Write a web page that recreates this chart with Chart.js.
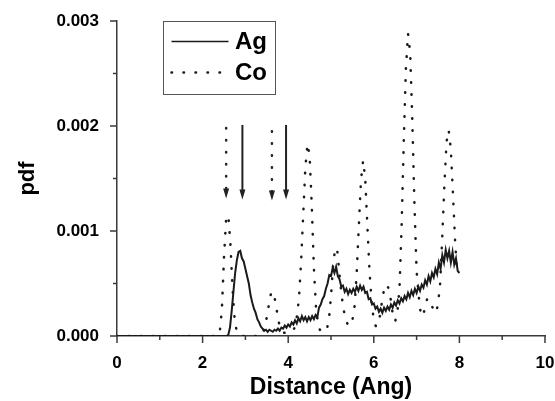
<!DOCTYPE html>
<html>
<head>
<meta charset="utf-8">
<script src="https://cdn.jsdelivr.net/npm/chart.js@4/dist/chart.umd.min.js"></script>
<style>
  html, body { margin: 0; padding: 0; background: #fff; }
</style>
</head>
<body>
<canvas id="pdfChart" width="555" height="401"></canvas>
<script>
// pdf vs distance, [distance (Ang), pdf]
var agPoints = [
  [0, 0], [2.56, 0], [2.60, 0.00001], [2.64, 0.00008], [2.68, 0.00024], [2.72, 0.00042],
  [2.76, 0.0006], [2.80, 0.00072], [2.84, 0.0008], [2.88, 0.00081], [2.92, 0.00074],
  [2.96, 0.00071], [3.00, 0.00064], [3.04, 0.00057], [3.08, 0.0005], [3.12, 0.00039],
  [3.16, 0.00032], [3.20, 0.00026], [3.24, 0.00022], [3.28, 0.00016], [3.32, 0.00013],
  [3.36, 0.00009], [3.40, 0.00007], [3.44, 0.00005], [3.48, 0.00006], [3.52, 0.00004],
  [3.56, 0.00006], [3.60, 0.00005], [3.64, 0.00004], [3.68, 0.00006], [3.72, 0.00005],
  [3.76, 0.00007], [3.80, 0.00005], [3.84, 0.00008], [3.88, 0.00007], [3.92, 0.0001],
  [3.96, 0.00008], [4.00, 0.00011], [4.04, 0.00009], [4.08, 0.00013], [4.12, 0.00011],
  [4.16, 0.00015], [4.20, 0.00012], [4.24, 0.00017], [4.28, 0.00014], [4.32, 0.00019],
  [4.36, 0.00015], [4.40, 0.00018], [4.44, 0.00014], [4.48, 0.00018], [4.52, 0.00015],
  [4.56, 0.00019], [4.60, 0.00016], [4.64, 0.0002], [4.68, 0.00018], [4.72, 0.00027],
  [4.76, 0.0003], [4.80, 0.00035], [4.84, 0.00038], [4.88, 0.00045], [4.92, 0.0005],
  [4.96, 0.00058], [5.00, 0.00057], [5.04, 0.00065], [5.08, 0.0006], [5.12, 0.00066],
  [5.16, 0.00057], [5.20, 0.00054], [5.24, 0.00047], [5.28, 0.00048], [5.32, 0.00042],
  [5.36, 0.00045], [5.40, 0.0004], [5.44, 0.00044], [5.48, 0.00041], [5.52, 0.00045],
  [5.56, 0.00042], [5.60, 0.00047], [5.64, 0.00043], [5.68, 0.00048], [5.72, 0.00044],
  [5.76, 0.00047], [5.80, 0.00041], [5.84, 0.00042], [5.88, 0.00035], [5.92, 0.00036],
  [5.96, 0.0003], [6.00, 0.00031], [6.04, 0.00026], [6.08, 0.00028], [6.12, 0.00023],
  [6.16, 0.00026], [6.20, 0.00022], [6.24, 0.00027], [6.28, 0.00024], [6.32, 0.00028],
  [6.36, 0.00025], [6.40, 0.0003], [6.44, 0.00027], [6.48, 0.00032], [6.52, 0.00029],
  [6.56, 0.00034], [6.60, 0.00031], [6.64, 0.00036], [6.68, 0.00033], [6.72, 0.00038],
  [6.76, 0.00035], [6.80, 0.00041], [6.84, 0.00037], [6.88, 0.00043], [6.92, 0.00039],
  [6.96, 0.00045], [7.00, 0.00041], [7.04, 0.00047], [7.08, 0.00043], [7.12, 0.00049],
  [7.16, 0.00046], [7.20, 0.00053], [7.24, 0.00049], [7.28, 0.00057], [7.32, 0.00052],
  [7.36, 0.0006], [7.40, 0.00056], [7.44, 0.00064], [7.48, 0.00059], [7.52, 0.0007],
  [7.56, 0.00064], [7.60, 0.00077], [7.64, 0.0007], [7.68, 0.00082], [7.72, 0.00074],
  [7.76, 0.00081], [7.80, 0.0007], [7.84, 0.0008], [7.88, 0.00068], [7.92, 0.00074],
  [7.96, 0.00062], [8.00, 0.0006]
];

var coPoints = [
  [0, 0], [2.35, 0], [2.40, 0.00003], [2.45, 0.00025], [2.50, 0.00075], [2.55, 0.00112],
  [2.60, 0.00115], [2.65, 0.00088], [2.70, 0.00045], [2.75, 0.00015], [2.80, 0.00004],
  [2.85, 0.00001], [2.90, 0], [3.35, 0], [3.40, 0.00002], [3.45, 0.00008], [3.50, 0.00018],
  [3.55, 0.0003], [3.60, 0.00041], [3.65, 0.00042], [3.70, 0.00033], [3.75, 0.0002],
  [3.80, 0.00009], [3.85, 0.00004], [3.90, 0.00003], [4.00, 0.00003], [4.10, 0.00004],
  [4.15, 0.00008], [4.20, 0.00018], [4.25, 0.00035], [4.30, 0.0007], [4.35, 0.00115],
  [4.40, 0.0016], [4.45, 0.00183], [4.50, 0.00172], [4.55, 0.00125], [4.60, 0.00065],
  [4.65, 0.00027], [4.70, 0.0001], [4.75, 0.00005], [4.80, 0.00004], [4.85, 0.00004],
  [4.90, 0.00006], [4.95, 0.00015], [5.00, 0.00038], [5.05, 0.00068], [5.10, 0.00084],
  [5.15, 0.0008], [5.20, 0.00058], [5.25, 0.00038], [5.30, 0.00024], [5.35, 0.00015],
  [5.40, 0.0001], [5.45, 0.0001], [5.50, 0.00015], [5.55, 0.00028], [5.60, 0.0006],
  [5.65, 0.00105], [5.70, 0.00148], [5.75, 0.00167], [5.80, 0.0015], [5.85, 0.00105],
  [5.90, 0.00062], [5.95, 0.00032], [6.00, 0.00015], [6.05, 0.00009], [6.10, 0.00013],
  [6.15, 0.0002], [6.20, 0.00036], [6.25, 0.00046], [6.30, 0.00049], [6.35, 0.00045],
  [6.40, 0.00034], [6.45, 0.00018], [6.50, 0.00014], [6.55, 0.00022], [6.60, 0.00045],
  [6.65, 0.00105], [6.70, 0.00185], [6.75, 0.00255], [6.80, 0.00288], [6.85, 0.0027],
  [6.90, 0.00205], [6.95, 0.00125], [7.00, 0.00062], [7.05, 0.00038], [7.10, 0.0002],
  [7.15, 0.00019], [7.20, 0.00028], [7.25, 0.00036], [7.30, 0.00033], [7.35, 0.00029],
  [7.40, 0.00025], [7.45, 0.00022], [7.50, 0.0003], [7.55, 0.0005], [7.60, 0.00095],
  [7.65, 0.00145], [7.70, 0.00185], [7.75, 0.00196], [7.80, 0.00178], [7.85, 0.00135],
  [7.90, 0.0009], [7.95, 0.00058]
];

var xTickLabels = ["0", "2", "4", "6", "8", "10"];
var yTickLabels = ["0.000", "0.001", "0.002", "0.003"];

// arrows marking the first shells (which series each belongs to)
var arrowX = [2.55, 2.93, 3.62, 3.95];
var arrowTop = [0.00198, 0.00201, 0.00195, 0.00201];
var arrowTip = [0.00131, 0.0013, 0.00129, 0.0013];
var arrowSeries = ["Co", "Ag", "Co", "Ag"];

var FONT = '"Liberation Sans", Arial, sans-serif';
var AXIS_COLOR = "#3a3a3a";
var DOTS = [0.5, 11.5];

function toXY(list) {
  return list.map(function (p) { return { x: p[0], y: p[1] }; });
}

// minor + major tick marks, drawn outward
var tickMarks = {
  id: "tickMarks",
  afterDraw: function (chart) {
    var ctx = chart.ctx, a = chart.chartArea;
    var xs = chart.scales.x, ys = chart.scales.y;
    ctx.save();
    ctx.strokeStyle = AXIS_COLOR;
    ctx.lineWidth = 1.5;
    ys.ticks.forEach(function (t, i) {
      var py = ys.getPixelForTick(i);
      var len = i % 2 === 0 ? 7 : 4;
      ctx.beginPath();
      ctx.moveTo(a.left - len, py);
      ctx.lineTo(a.left, py);
      ctx.stroke();
    });
    xs.ticks.forEach(function (t, i) {
      var px = xs.getPixelForTick(i);
      var len = i % 2 === 0 ? 7 : 4;
      ctx.beginPath();
      ctx.moveTo(px, a.bottom);
      ctx.lineTo(px, a.bottom + len);
      ctx.stroke();
    });
    ctx.restore();
  }
};

var arrows = {
  id: "arrows",
  afterDatasetsDraw: function (chart) {
    var ctx = chart.ctx;
    var xs = chart.scales.x, ys = chart.scales.y;
    ctx.save();
    arrowX.forEach(function (xv, i) {
      var px = xs.getPixelForValue(xv);
      var top = ys.getPixelForValue(arrowTop[i]);
      var tip = ys.getPixelForValue(arrowTip[i]);
      var dotted = arrowSeries[i] === "Co";
      ctx.strokeStyle = "#222";
      ctx.fillStyle = "#222";
      ctx.lineWidth = dotted ? 2.5 : 2;
      ctx.lineCap = dotted ? "round" : "butt";
      ctx.setLineDash(dotted ? DOTS : []);
      ctx.beginPath();
      ctx.moveTo(px, top);
      ctx.lineTo(px, tip - 9);
      ctx.stroke();
      ctx.setLineDash([]);
      ctx.beginPath();
      ctx.moveTo(px - 3, tip - 10);
      ctx.lineTo(px + 3, tip - 10);
      ctx.lineTo(px, tip);
      ctx.closePath();
      ctx.fill();
    });
    ctx.restore();
  }
};

var legendBox = {
  id: "legendBox",
  afterDraw: function (chart) {
    var ctx = chart.ctx;
    ctx.save();
    ctx.fillStyle = "#fff";
    ctx.fillRect(163.5, 21.5, 112, 73);
    ctx.strokeStyle = "#555";
    ctx.lineWidth = 1;
    ctx.strokeRect(163.5, 21.5, 112, 73);
    chart.data.datasets.forEach(function (ds, i) {
      var y = 41.5 + i * 31;
      ctx.strokeStyle = ds.borderColor;
      ctx.lineWidth = ds.borderDash ? ds.borderWidth : 1.5;
      ctx.lineCap = ds.borderCapStyle || "butt";
      ctx.setLineDash(ds.borderDash || []);
      ctx.beginPath();
      ctx.moveTo(171.5, y);
      ctx.lineTo(ds.borderDash ? 222 : 228.5, y);
      ctx.stroke();
      ctx.setLineDash([]);
      ctx.fillStyle = "#000";
      ctx.font = "bold 24px " + FONT;
      ctx.textBaseline = "middle";
      ctx.fillText(ds.label, 235, y + 1);
    });
    ctx.restore();
  }
};

var ctx = document.getElementById("pdfChart").getContext("2d");
var chart = new Chart(ctx, {
  type: "line",
  data: {
    datasets: [
      {
        label: "Ag",
        data: toXY(agPoints),
        borderColor: "#1a1a1a",
        borderWidth: 2,
        pointRadius: 0,
        tension: 0,
        fill: false
      },
      {
        label: "Co",
        data: toXY(coPoints),
        borderColor: "#1a1a1a",
        borderWidth: 2.5,
        borderDash: DOTS,
        borderCapStyle: "round",
        pointRadius: 0,
        tension: 0,
        fill: false
      }
    ]
  },
  options: {
    responsive: false,
    animation: false,
    layout: { padding: { top: 21, right: 0, left: 0, bottom: 0 } },
    plugins: {
      legend: { display: false },
      tooltip: { enabled: false }
    },
    scales: {
      x: {
        type: "linear",
        min: 0,
        max: 10,
        grid: { display: false },
        border: { display: true, color: AXIS_COLOR, width: 1.5 },
        ticks: {
          stepSize: 1,
          autoSkip: false,
          maxRotation: 0,
          padding: 9,
          color: "#000",
          font: { family: FONT, size: 17, weight: "bold" },
          callback: function (v, i) { return i % 2 === 0 ? xTickLabels[i / 2] : ""; }
        },
        title: {
          display: true,
          text: "Distance (Ang)",
          color: "#000",
          font: { family: FONT, size: 23, weight: "bold" },
          padding: { top: 0, bottom: 0 }
        },
        afterFit: function (scale) {
          scale.height = 65;
          scale.paddingLeft = 0;
          scale.paddingRight = 10;
        }
      },
      y: {
        min: 0,
        max: 0.003,
        grid: { display: false },
        border: { display: true, color: AXIS_COLOR, width: 1.5 },
        ticks: {
          stepSize: 0.0005,
          autoSkip: false,
          padding: 10,
          color: "#000",
          font: { family: FONT, size: 17, weight: "bold" },
          callback: function (v, i) { return i % 2 === 0 ? yTickLabels[i / 2] : ""; }
        },
        title: {
          display: true,
          text: "pdf",
          color: "#000",
          font: { family: FONT, size: 22, weight: "bold" },
          padding: { top: 15, bottom: 0 }
        },
        afterFit: function (scale) { scale.width = 117; }
      }
    }
  },
  plugins: [tickMarks, arrows, legendBox]
});
</script>
</body>
</html>
